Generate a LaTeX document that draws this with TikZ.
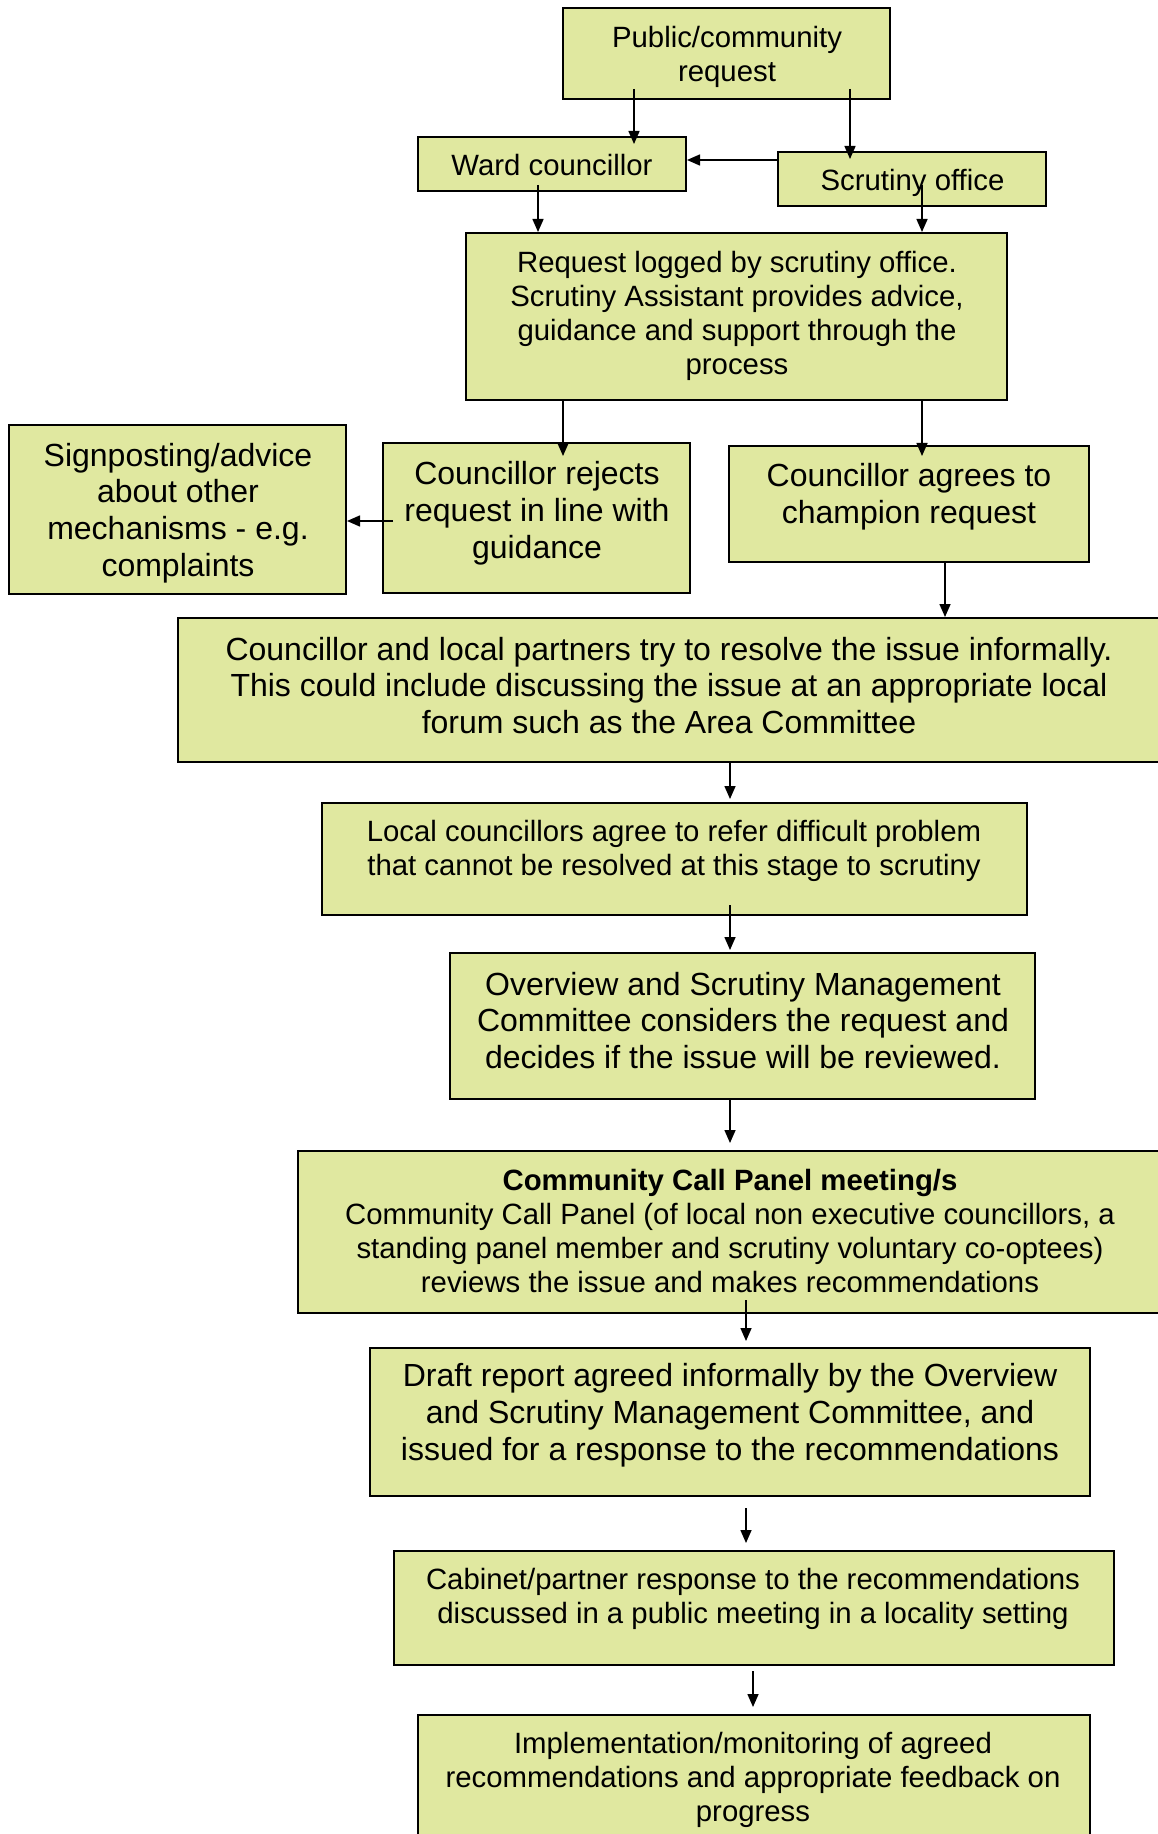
\documentclass[tikz,border=0pt]{standalone}
\usepackage{fontspec}
\setmainfont{Liberation Sans}
\usetikzlibrary{arrows.meta}
\definecolor{boxfill}{RGB}{224,232,160}
\newcommand\bigf{\fontsize{16}{18.4}\selectfont}
\newcommand\smlf{\fontsize{14.67}{17}\selectfont}
\tikzset{
  box/.style={draw=black, line width=1pt, fill=boxfill, inner sep=0pt},
  txt/.style={inner sep=0pt, align=center, text=black},
  arr/.style={line width=0.75pt, -{Triangle[length=6.5pt,width=5.5pt]}}
}
\begin{document}
\begin{tikzpicture}[x=0.5pt, y=-0.5pt]
\useasboundingbox[fill=white] (0,0) rectangle (1157,1834);
% boxes
\node[box, minimum width=163.5pt, minimum height=45.5pt] (pub) at (726.5,53.5) {};
\node[box, minimum width=134pt, minimum height=27pt] (ward) at (552,164) {};
\node[box, minimum width=134pt, minimum height=27pt] (scr) at (912,179) {};
\node[box, minimum width=270.5pt, minimum height=83.5pt] (req) at (736.5,316.5) {};
\node[box, minimum width=168.5pt, minimum height=84.5pt] (sign) at (177.5,509.5) {};
\node[box, minimum width=153.5pt, minimum height=75pt] (rej) at (536.5,518) {};
\node[box, minimum width=180pt, minimum height=58pt] (agr) at (909,504) {};
\node[box, minimum width=491pt, minimum height=72pt] (part) at (669,690) {};
\node[box, minimum width=352.5pt, minimum height=56pt] (loc) at (674.5,859) {};
\node[box, minimum width=292.5pt, minimum height=73pt] (ovw) at (742.5,1026) {};
\node[box, minimum width=432pt, minimum height=81pt] (ccp) at (730,1232) {};
\node[box, minimum width=360pt, minimum height=74pt] (drf) at (730,1422) {};
\node[box, minimum width=360pt, minimum height=57pt] (cab) at (754,1608) {};
\node[box, minimum width=336pt, minimum height=62.5pt] (imp) at (754,1777.5) {};
% texts
\node[txt, font=\smlf] (tpub) at (727,56.5) {Public/community\\request};
\node[txt, font=\smlf] (tward) at (552,165) {Ward councillor};
\node[txt, font=\smlf] (tscr) at (912.5,182.5) {Scrutiny office};
\node[txt, font=\smlf] (treq) at (737,315.5) {Request logged by scrutiny office.\\Scrutiny Assistant provides advice,\\guidance and support through the\\process};
\node[txt, font=\bigf] (tsign) at (178,513) {Signposting/advice\\about other\\mechanisms - e.g.\\complaints};
\node[txt, font=\bigf] (trej) at (537,513.5) {Councillor rejects\\request in line with\\guidance};
\node[txt, font=\bigf] (tagr) at (909,496.5) {Councillor agrees to\\champion request};
\node[txt, font=\bigf] (tpart) at (669,685.5) {Councillor and local partners try to resolve the issue informally.\\This could include discussing the issue at an appropriate local\\forum such as the Area Committee};
\node[txt, font=\smlf] (tloc) at (674,850.5) {Local councillors agree to refer difficult problem\\that cannot be resolved at this stage to scrutiny};
\node[txt, font=\bigf] (tovw) at (743,1020.5) {Overview and Scrutiny Management\\Committee considers the request and\\decides if the issue will be reviewed.};
\node[txt, font=\smlf] (tccp) at (730,1230.5) {\textbf{Community Call Panel meeting/s}\\Community Call Panel (of local non executive councillors, a\\standing panel member and scrutiny voluntary co-optees)\\reviews the issue and makes recommendations};
\node[txt, font=\bigf] (tdrf) at (730,1415.5) {Draft report agreed informally by the Overview\\and Scrutiny Management Committee, and\\issued for a response to the recommendations};
\node[txt, font=\smlf] (tcab) at (753,1598.5) {Cabinet/partner response to the recommendations\\discussed in a public meeting in a locality setting};
\node[txt, font=\smlf] (timp) at (753,1779.5) {Implementation/monitoring of agreed\\recommendations and appropriate feedback on\\progress};
% connectors
\draw[arr, shorten <=-5.5pt, shorten >=-4pt] (pub.south -| 634,0) -- (ward.north -| 634,0);
\draw[arr, shorten <=-5.5pt, shorten >=-4pt] (pub.south -| 850,0) -- (scr.north -| 850,0);
\draw[arr] (scr.west |- 0,160) -- (ward.east |- 0,160);
\draw[arr, shorten <=-3.5pt] (ward.south -| 538,0) -- (req.north -| 538,0);
\draw[arr, shorten <=-11pt] (scr.south -| 922,0) -- (req.north -| 922,0);
\draw[arr, shorten >=-7pt] (req.south -| 563,0) -- (rej.north -| 563,0);
\draw[arr, shorten >=-5.5pt] (req.south -| 922,0) -- (agr.north -| 922,0);
\draw[arr, shorten <=-5.5pt] (rej.west |- 0,521) -- (sign.east |- 0,521);
\draw[arr] (agr.south -| 945,0) -- (part.north -| 945,0);
\draw[arr, shorten >=1.5pt] (part.south -| 730,0) -- (loc.north -| 730,0);
\draw[arr, shorten <=-5.5pt, shorten >=1pt] (loc.south -| 730,0) -- (ovw.north -| 730,0);
\draw[arr, shorten >=3.5pt] (ovw.south -| 730,0) -- (ccp.north -| 730,0);
\draw[arr, shorten <=-7pt, shorten >=3pt] (ccp.south -| 746,0) -- (drf.north -| 746,0);
\draw[arr, shorten <=5.5pt, shorten >=3.5pt] (drf.south -| 746,0) -- (cab.north -| 746,0);
\draw[arr, shorten <=2.5pt, shorten >=3.5pt] (cab.south -| 753,0) -- (imp.north -| 753,0);
\end{tikzpicture}
\end{document}
